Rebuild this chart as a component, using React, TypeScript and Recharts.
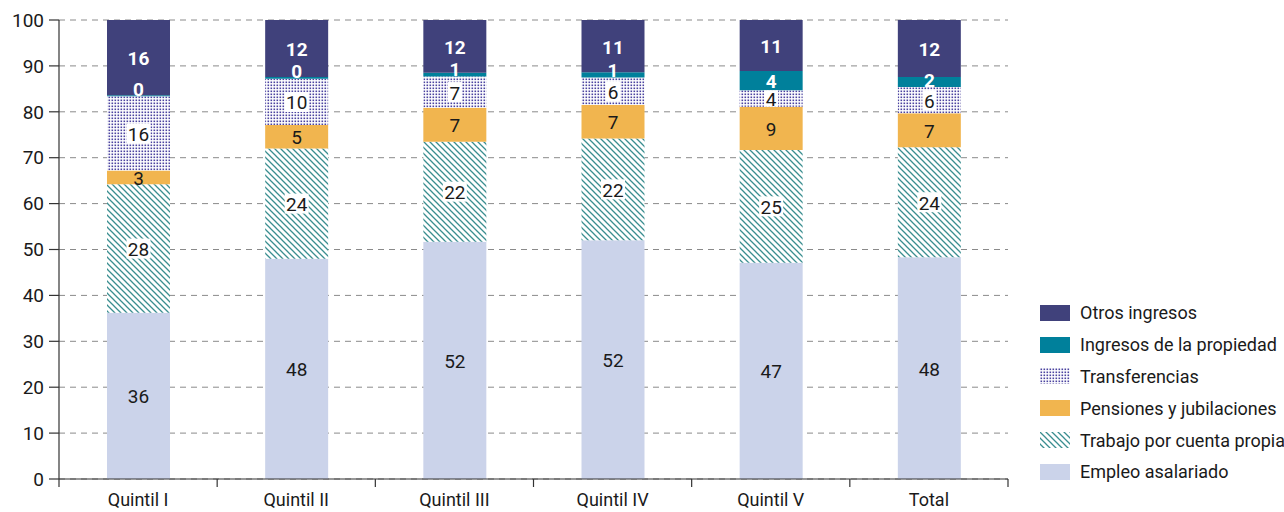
import { Bar, BarChart, CartesianGrid, LabelList, XAxis, YAxis } from "recharts";

const categories = ["Quintil I", "Quintil II", "Quintil III", "Quintil IV", "Quintil V", "Total"];
const empleo = [36.2, 48.0, 51.7, 52.0, 47.1, 48.3];
const cuentaPropia = [28.0, 24.0, 21.8, 22.2, 24.6, 24.0];
const pensiones = [3.0, 5.1, 7.4, 7.3, 9.4, 7.4];
const transferencias = [16.2, 10.1, 6.8, 6.0, 3.6, 5.7];
const propiedad = [0.2, 0.4, 0.8, 1.1, 4.2, 2.2];
const otros = [16.4, 12.4, 11.5, 11.4, 11.1, 12.4];
const yTicks = [0, 10, 20, 30, 40, 50, 60, 70, 80, 90, 100];

const FONT = "Roboto, 'Liberation Sans', sans-serif";

const data = categories.map((name, i) => ({
  name,
  empleo: empleo[i],
  cuentaPropia: cuentaPropia[i],
  pensiones: pensiones[i],
  transferencias: transferencias[i],
  propiedad: propiedad[i],
  otros: otros[i],
}));

// series drawn bottom -> top
const SERIES = [
  { key: "empleo", name: "Empleo asalariado", fill: "#cbd3ea", label: "plain" },
  { key: "cuentaPropia", name: "Trabajo por cuenta propia", fill: "url(#hatch)", label: "boxed" },
  { key: "pensiones", name: "Pensiones y jubilaciones", fill: "#f1b54f", label: "plain" },
  { key: "transferencias", name: "Transferencias", fill: "url(#dots)", label: "boxed" },
  { key: "propiedad", name: "Ingresos de la propiedad", fill: "#00809b", label: "bold" },
  { key: "otros", name: "Otros ingresos", fill: "#40417b", label: "bold" },
];

function Patterns({ prefix = "" }: { prefix?: string }) {
  return (
    <defs>
      <pattern id={prefix + "hatch"} patternUnits="userSpaceOnUse" width="6" height="6">
        <rect width="6" height="6" fill="#fff" />
        <path d="M0,0 L6,6 M-1,5 L1,7 M5,-1 L7,1" stroke="#3a8e90" strokeWidth="1.3" />
      </pattern>
      <pattern id={prefix + "dots"} patternUnits="userSpaceOnUse" width="3" height="3">
        <rect width="3" height="3" fill="#fff" />
        <rect x="0.5" y="0.5" width="1.6" height="1.6" fill="#4b43a0" />
      </pattern>
    </defs>
  );
}

const makeLabel = (kind: string) => (props: any) => {
  const { x, y, width, height, value } = props;
  const cx = x + width / 2;
  // thin segments: keep the label sitting just above the segment's bottom edge
  const cy = kind === "bold" ? Math.min(y + height / 2, y + height - 8) : y + height / 2;
  const txt = String(Math.round(value));
  const bold = kind === "bold";
  const tw = txt.length * 10 + 4;
  const bh = Math.min(20, Math.abs(height));
  return (
    <g>
      {kind === "boxed" && (
        <rect x={cx - tw / 2} y={cy - bh / 2} width={tw} height={bh} fill="#fff" />
      )}
      <text
        x={cx}
        y={cy + 1}
        textAnchor="middle"
        dominantBaseline="central"
        fontFamily={FONT}
        fontSize={19}
        fontWeight={bold ? 700 : 400}
        fill={bold ? "#fff" : "#1a1a1a"}
      >
        {txt}
      </text>
    </g>
  );
};

const HALF_BAND = (1008 - 59) / 6 / 2;

const XTick = (props: any) => {
  const { x, y, payload, index } = props;
  const axisY = y - 8;
  return (
    <g>
      <line x1={x + HALF_BAND} x2={x + HALF_BAND} y1={axisY} y2={axisY + 8} stroke="#333" strokeWidth={1.2} />
      {index === 0 && (
        <line x1={x - HALF_BAND} x2={x - HALF_BAND} y1={axisY} y2={axisY + 8} stroke="#333" strokeWidth={1.2} />
      )}
      <text x={x} y={axisY + 20} textAnchor="middle" dominantBaseline="central" fontFamily={FONT} fontSize={18} fill="#1a1a1a">
        {payload.value}
      </text>
    </g>
  );
};

function LegendBox() {
  const items = [...SERIES].reverse();
  return (
    <div style={{ position: "absolute", left: 1040, top: 297, fontFamily: FONT, fontSize: 18, color: "#1a1a1a" }}>
      {items.map((s) => (
        <div key={s.key} style={{ display: "flex", alignItems: "center", height: 31.8 }}>
          <svg width={30} height={16} style={{ marginRight: 10 }}>
            <Patterns prefix="lg-" />
            <rect width={30} height={16} fill={s.fill.replace("url(#", "url(#lg-")} />
          </svg>
          <span style={{ whiteSpace: "nowrap" }}>{s.name}</span>
        </div>
      ))}
    </div>
  );
}

export default function App() {
  return (
    <div style={{ position: "absolute", left: 0, top: 0, width: 1284, height: 512, background: "#fff" }}>
      <BarChart
        width={1284}
        height={512}
        data={data}
        margin={{ top: 20, right: 276, bottom: 0, left: 0 }}
        barSize={63}
      >
        <Patterns />
        <CartesianGrid vertical={false} stroke="#8a8a8a" strokeDasharray="6 5" />
        <XAxis
          dataKey="name"
          height={33}
          axisLine={{ stroke: "#333", strokeWidth: 1.2 }}
          tickLine={false}
          tick={<XTick />}
          interval={0}
        />
        <YAxis
          width={59}
          domain={[0, 100]}
          ticks={yTicks}
          allowDataOverflow
          axisLine={{ stroke: "#333", strokeWidth: 1.2 }}
          tickLine={{ stroke: "#333", strokeWidth: 1.2 }}
          tickSize={10}
          tickMargin={5}
          tick={{ fontFamily: FONT, fontSize: 19, fill: "#1a1a1a" }}
        />
        {SERIES.map((s) => (
          <Bar key={s.key} dataKey={s.key} name={s.name} stackId="a" fill={s.fill} isAnimationActive={false}>
            <LabelList dataKey={s.key} content={makeLabel(s.label)} />
          </Bar>
        ))}
      </BarChart>
      <LegendBox />
    </div>
  );
}
